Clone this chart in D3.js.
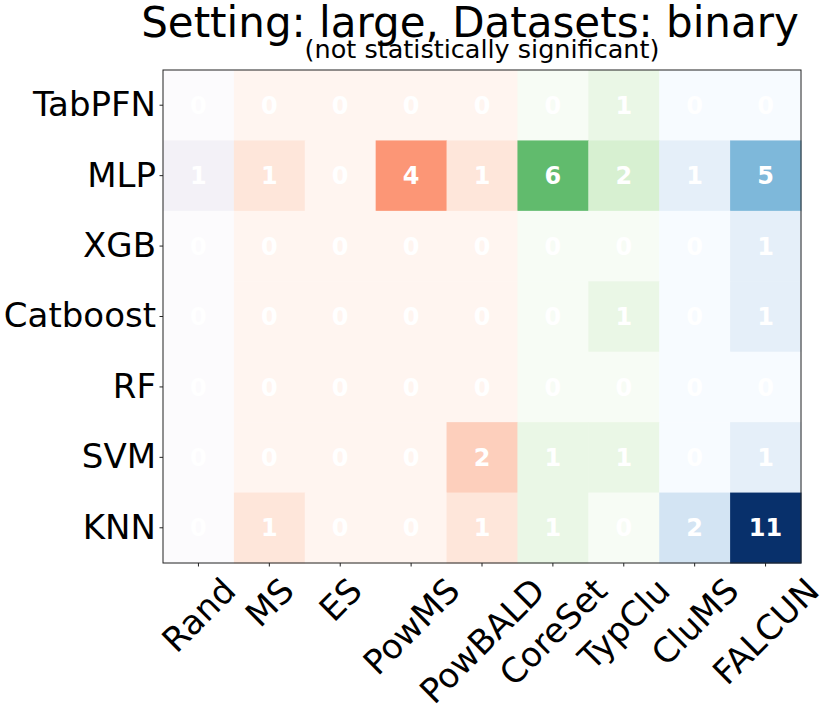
<!DOCTYPE html>
<html>
<head>
<meta charset="utf-8">
<script src="https://cdn.jsdelivr.net/npm/d3@7"></script>
<style>
  body { margin: 0; background: #fff; }
  svg { display: block; font-family: "DejaVu Sans", sans-serif; }
</style>
</head>
<body>
<svg id="heatmap" width="830" height="711"></svg>
<script>
// Classifiers (rows) and query strategies (columns)
const models = ["TabPFN", "MLP", "XGB", "Catboost", "RF", "SVM", "KNN"];
const strategies = ["Rand", "MS", "ES", "PowMS", "PowBALD", "CoreSet", "TypClu", "CluMS", "FALCUN"];

// colour family of each strategy column
const families = ["Purples", "Reds", "Reds", "Reds", "Reds", "Greens", "Greens", "Blues", "Blues"];

// wins per model, one array per row, in strategy order
const tabpfnWins   = [0, 0, 0, 0, 0, 0, 1, 0, 0];
const mlpWins      = [1, 1, 0, 4, 1, 6, 2, 1, 5];
const xgbWins      = [0, 0, 0, 0, 0, 0, 0, 0, 1];
const catboostWins = [0, 0, 0, 0, 0, 0, 1, 0, 1];
const rfWins       = [0, 0, 0, 0, 0, 0, 0, 0, 0];
const svmWins      = [0, 0, 0, 0, 2, 1, 1, 0, 1];
const knnWins      = [0, 1, 0, 0, 1, 1, 0, 2, 11];

const rows = [tabpfnWins, mlpWins, xgbWins, catboostWins, rfWins, svmWins, knnWins];

const cells = [];
rows.forEach((vals, r) => {
    vals.forEach((v, c) => {
        cells.push({ model: models[r], strategy: strategies[c], family: families[c], value: v });
    });
});

const width = 830;
const height = 711;
const margin = { top: 70, right: 29, bottom: 148, left: 163 };
const innerWidth = width - margin.left - margin.right;
const innerHeight = height - margin.top - margin.bottom;

const svg = d3.select("#heatmap");
const g = svg.append("g")
    .attr("transform", `translate(${margin.left},${margin.top})`);

const xScale = d3.scaleBand()
    .domain(strategies)
    .range([0, innerWidth]);

const yScale = d3.scaleBand()
    .domain(models)
    .range([0, innerHeight]);

// matplotlib style colormaps: piecewise linear over the 9 brewer colours
const maxValue = d3.max(cells, d => d.value);
const colorMaps = {};
["Purples", "Reds", "Greens", "Blues"].forEach(name => {
    const stops = d3["scheme" + name][9];
    colorMaps[name] = d3.scaleLinear()
        .domain(stops.map((s, i) => i / (stops.length - 1) * maxValue))
        .range(stops)
        .interpolate(d3.interpolateRgb)
        .clamp(true);
});

g.selectAll(".cell")
    .data(cells)
    .enter()
    .append("rect")
    .attr("class", "cell")
    .attr("x", d => xScale(d.strategy))
    .attr("y", d => yScale(d.model))
    .attr("width", xScale.bandwidth() + 0.5)
    .attr("height", yScale.bandwidth() + 0.5)
    .attr("fill", d => colorMaps[d.family](d.value));

g.selectAll(".cell-label")
    .data(cells)
    .enter()
    .append("text")
    .attr("class", "cell-label")
    .attr("x", d => xScale(d.strategy) + xScale.bandwidth() / 2)
    .attr("y", d => yScale(d.model) + yScale.bandwidth() / 2)
    .attr("dy", "0.36em")
    .attr("text-anchor", "middle")
    .attr("font-size", "24px")
    .attr("font-weight", "bold")
    .attr("fill", "#fff")
    .text(d => d.value);

// frame
g.append("rect")
    .attr("x", 0)
    .attr("y", 0)
    .attr("width", innerWidth)
    .attr("height", innerHeight)
    .attr("fill", "none")
    .attr("stroke", "#222")
    .attr("stroke-width", 1);

const labelSize = 34;

// y axis
const yAxis = g.append("g")
    .call(d3.axisLeft(yScale).tickSize(3.5).tickPadding(3.5));
yAxis.select(".domain").remove();
yAxis.selectAll(".tick line").attr("stroke", "#222");
yAxis.selectAll(".tick text")
    .attr("font-family", "DejaVu Sans")
    .attr("font-size", labelSize + "px")
    .attr("fill", "#000");

// x axis, labels turned 45 degrees and centred on the tick like matplotlib
const xAxis = g.append("g")
    .attr("transform", `translate(0,${innerHeight})`)
    .call(d3.axisBottom(xScale).tickSize(3.5).tickPadding(3.5));
xAxis.select(".domain").remove();
xAxis.selectAll(".tick line").attr("stroke", "#222");

const labelTop = 7;
xAxis.selectAll(".tick text")
    .attr("font-family", "DejaVu Sans")
    .attr("font-size", labelSize + "px")
    .attr("fill", "#000")
    .attr("text-anchor", "middle")
    .attr("y", 0)
    .attr("dy", "0.36em")
    .attr("transform", function() {
        const w = this.getComputedTextLength();
        const h = labelSize * 1.17;
        const boxH = (w + h) * Math.SQRT1_2;
        return `translate(0,${labelTop + boxH / 2}) rotate(-45)`;
    });

// titles
svg.append("text")
    .attr("x", 470)
    .attr("y", 37)
    .attr("text-anchor", "middle")
    .attr("font-size", "42px")
    .attr("fill", "#000")
    .text("Setting: large, Datasets: binary");

svg.append("text")
    .attr("x", margin.left + innerWidth / 2)
    .attr("y", 58)
    .attr("text-anchor", "middle")
    .attr("font-size", "25.5px")
    .attr("fill", "#000")
    .text("(not statistically significant)");
</script>
</body>
</html>
